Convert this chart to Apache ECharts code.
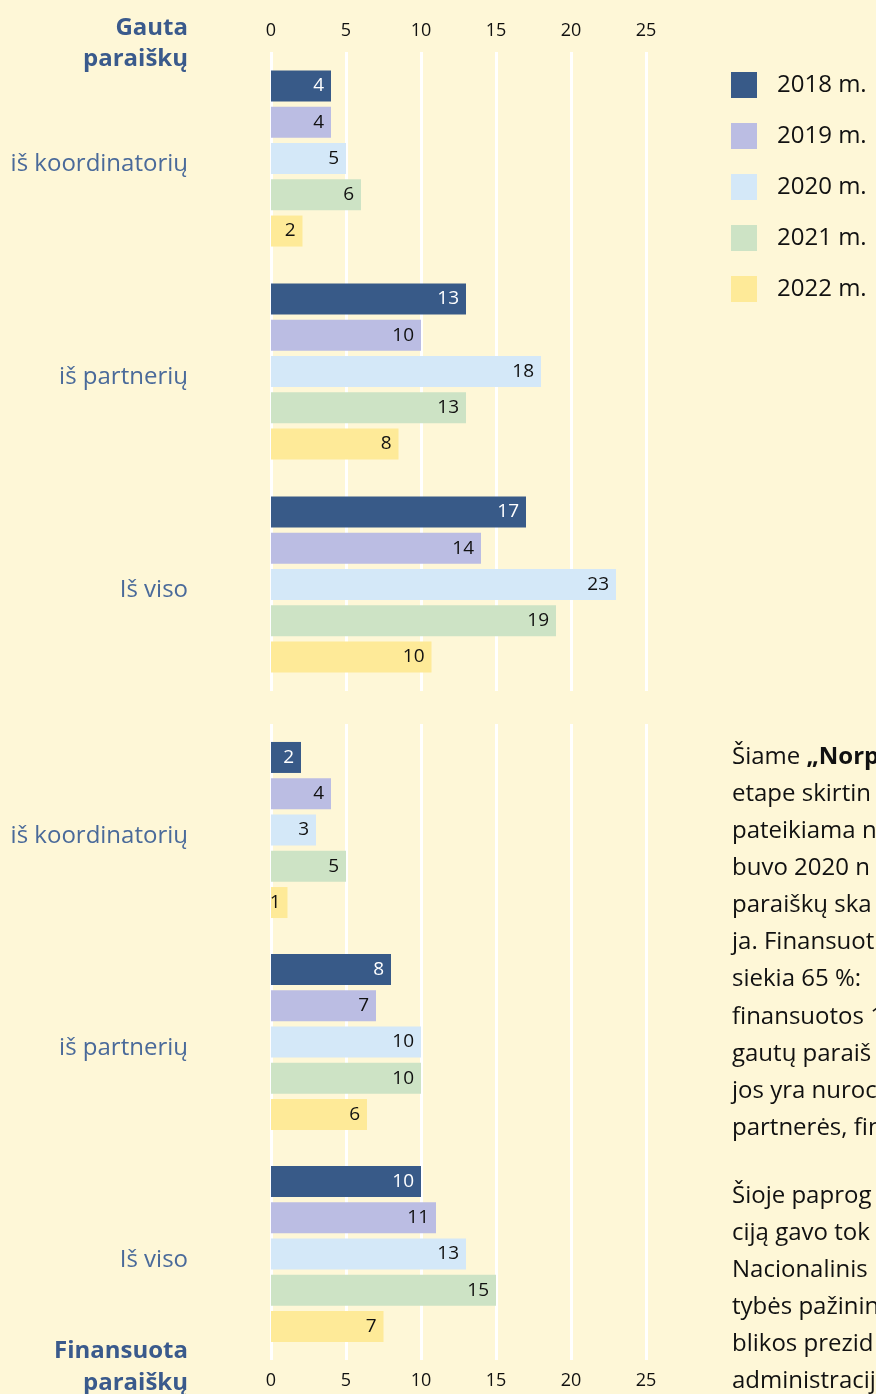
<!DOCTYPE html>
<html>
<head>
<meta charset="utf-8">
<script src="https://cdn.jsdelivr.net/npm/echarts@6/dist/echarts.min.js"></script>
<style>
    html, body { margin: 0; padding: 0; background: #FEF7D7; }
    #main { width: 876px; height: 1394px; }
</style>
</head>
<body>
<div id="main"></div>
<script>
var categories = ['iš koordinatorių', 'iš partnerių', 'Iš viso'];
var years = ['2018 m.', '2019 m.', '2020 m.', '2021 m.', '2022 m.'];
var xTicks = [0, 5, 10, 15, 20, 25];

// gauta paraiškų
var received2018 = [4, 13, 17];
var received2019 = [4, 10, 14];
var received2020 = [5, 18, 23];
var received2021 = [6, 13, 19];
var received2022 = [2.1, 8.5, 10.7];
var receivedLabels2022 = [2, 8, 10];

// finansuota paraiškų
var funded2018 = [2, 8, 10];
var funded2019 = [4, 7, 11];
var funded2020 = [3, 10, 13];
var funded2021 = [5, 10, 15];
var funded2022 = [1.1, 6.4, 7.5];
var fundedLabels2022 = [1, 6, 7];

var colors = ['#385A88', '#BBBDE3', '#D4E8F8', '#CDE3C5', '#FEEA98'];
var fontFamily = '"Open Sans", Lato, sans-serif';

var myChart = echarts.init(document.getElementById('main'));

function makeSeries(name, idx, axisIdx, values, labels) {
    return {
        name: name,
        type: 'bar',
        xAxisIndex: axisIdx,
        yAxisIndex: axisIdx,
        data: values,
        barWidth: 31,
        barGap: '17%',
        itemStyle: { color: colors[idx] },
        label: {
            show: true,
            position: 'insideRight',
            distance: 7,
            fontSize: 19,
            fontFamily: fontFamily,
            color: idx === 0 ? '#ffffff' : '#111111',
            formatter: function (p) {
                return labels ? labels[p.dataIndex] : p.value;
            }
        }
    };
}

function makeX(idx, pos) {
    return {
        type: 'value',
        gridIndex: idx,
        position: pos,
        min: 0,
        max: 25,
        interval: 5,
        axisLine: { show: false },
        axisTick: { show: false },
        axisLabel: { fontSize: 18, color: '#111', margin: 12, fontFamily: fontFamily },
        splitLine: { show: true, lineStyle: { color: '#ffffff', width: 3 } }
    };
}

function makeY(idx) {
    return {
        type: 'category',
        gridIndex: idx,
        inverse: true,
        data: categories,
        axisLine: { show: false },
        axisTick: { show: false },
        axisLabel: {
            margin: 83,
            formatter: function (v) { return '{c|' + v + '}'; },
            rich: {
                c: { fontSize: 24, color: '#4A6A9A', fontFamily: fontFamily, padding: [12, 0, 0, 0] }
            }
        }
    };
}

var paraLines1 = [
    '{n|Šiame }{b|„Norp}',
    'etape skirtin',
    'pateikiama n',
    'buvo 2020 n',
    'paraiškų ska',
    'ja. Finansuot',
    'siekia 65 %: ',
    'finansuotos 1',
    'gautų paraiš',
    'jos yra nuroc',
    'partnerės, fin'
];
var paraLines2 = [
    'Šioje paprog',
    'ciją gavo tok',
    'Nacionalinis ',
    'tybės pažinin',
    'blikos prezid',
    'administracij'
];

function titleText(t, y) {
    return {
        type: 'text', x: 188, y: y,
        style: {
            text: t, font: 'bold 24px ' + fontFamily, fill: '#3A5A8C',
            align: 'right', verticalAlign: 'middle'
        }
    };
}

var graphics = [
    titleText('Gauta', 28),
    titleText('paraiškų', 59),
    titleText('Finansuota', 1351),
    titleText('paraiškų', 1383)
];
paraLines1.forEach(function (t, i) {
    graphics.push({
        type: 'text', x: 732, y: 757 + i * 37.1,
        style: {
            text: t, fill: '#111', font: '24px ' + fontFamily, verticalAlign: 'middle',
            rich: {
                n: { fontSize: 24, fontFamily: fontFamily, fill: '#111' },
                b: { fontSize: 24, fontFamily: fontFamily, fontWeight: 'bold', fill: '#111' }
            }
        }
    });
});
paraLines2.forEach(function (t, i) {
    graphics.push({
        type: 'text', x: 732, y: 1196 + i * 37,
        style: { text: t, fill: '#111', font: '24px ' + fontFamily, verticalAlign: 'middle' }
    });
});

var option = {
    backgroundColor: '#FEF7D7',
    animation: false,
    legend: {
        data: years,
        orient: 'vertical',
        left: 731,
        top: 72,
        itemWidth: 26,
        itemHeight: 26,
        itemGap: 25,
        icon: 'rect',
        padding: 0,
        textStyle: { fontSize: 24, color: '#111', fontFamily: fontFamily, padding: [2, 0, 0, 15] }
    },
    grid: [
        { left: 271, right: 230, top: 52, height: 639 },
        { left: 271, right: 230, top: 724, height: 636 }
    ],
    xAxis: [makeX(0, 'top'), makeX(1, 'bottom')],
    yAxis: [makeY(0), makeY(1)],
    graphic: graphics,
    series: [
        makeSeries(years[0], 0, 0, received2018),
        makeSeries(years[1], 1, 0, received2019),
        makeSeries(years[2], 2, 0, received2020),
        makeSeries(years[3], 3, 0, received2021),
        makeSeries(years[4], 4, 0, received2022, receivedLabels2022),
        makeSeries(years[0], 0, 1, funded2018),
        makeSeries(years[1], 1, 1, funded2019),
        makeSeries(years[2], 2, 1, funded2020),
        makeSeries(years[3], 3, 1, funded2021),
        makeSeries(years[4], 4, 1, funded2022, fundedLabels2022)
    ]
};
myChart.setOption(option);
</script>
</body>
</html>
